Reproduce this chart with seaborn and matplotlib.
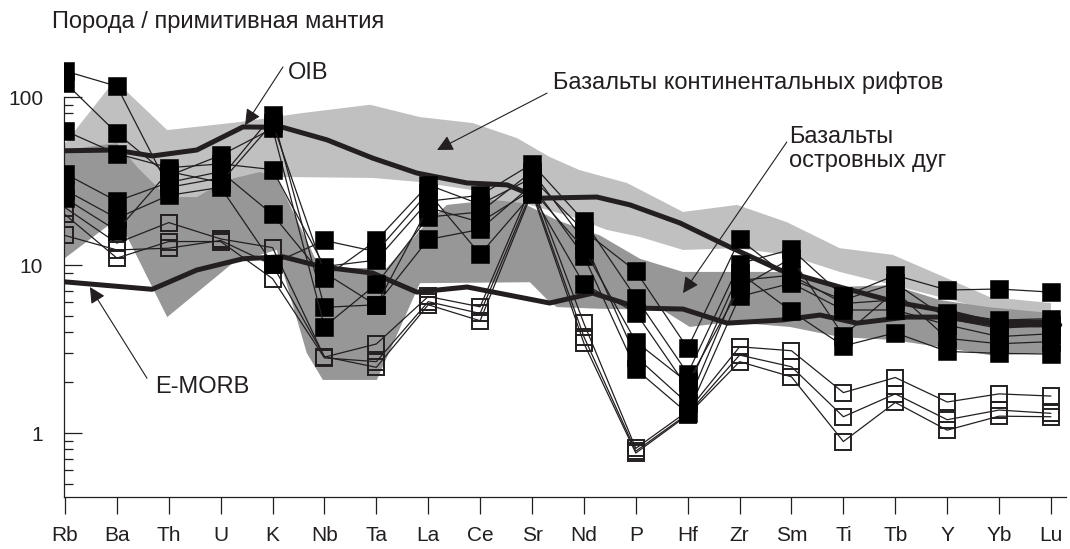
import numpy as np
import pandas as pd
import matplotlib
matplotlib.use('Agg')
import matplotlib.pyplot as plt
import matplotlib.ticker as mticker
import seaborn as sns

# element order (primitive-mantle normalised spider diagram)
elements = ['Rb', 'Ba', 'Th', 'U', 'K', 'Nb', 'Ta', 'La', 'Ce', 'Sr',
            'Nd', 'P', 'Hf', 'Zr', 'Sm', 'Ti', 'Tb', 'Y', 'Yb', 'Lu']

# samples, filled squares
filled_1 = [143, 116, 29, 33, 78, 5.6, 5.8, 14.2, 16.3, 30, 11.3, 2.4, 1.31, 6.5, 7.8, 5.4, 5.4, 4.4, 3.75, 3.9]
filled_2 = [122, 61, 34, 45, 65, 4.3, 7.7, 19.3, 20.7, 36, 14, 2.85, 1.5, 8.1, 8.7, 5.9, 6.2, 5.2, 4.7, 4.8]
filled_3 = [63, 46, 38, 40, 37, 9.8, 10.7, 24, 26, 40, 18.3, 6.4, 2.26, 10.2, 12.4, 6.5, 8.7, 7.1, 7.2, 6.9]
filled_4 = [35, 24, 31, 36, 20, 8.4, 14, 30, 23, 33, 16, 9.2, 3.2, 14.2, 8.2, 6.2, 7.8, 4.8, 4.2, 4.4]
filled_5 = [28, 19, 26, 29, 10.2, 14, 12, 27, 11.6, 26.4, 7.7, 5.2, 1.85, 9.0, 5.3, 3.3, 3.95, 3.06, 2.98, 2.95]
filled_6 = [25, 16, 36, 31, 70, 9.0, 5.75, 22, 18, 28, 12.5, 3.5, 2.0, 7.3, 11, 3.8, 7.0, 3.66, 3.4, 3.5]

# samples, open squares
open_1 = [22, 13.5, 17.9, 14.3, 12.7, 2.83, 3.39, 6.5, 5.64, 30, 4.49, 0.81, 1.35, 3.26, 3.09, 1.74, 2.14, 1.53, 1.71, 1.66]
open_2 = [20, 11, 13.8, 13.8, 8.3, 2.8, 2.66, 6.05, 5.15, 28, 3.74, 0.78, 1.30, 2.91, 2.48, 1.25, 1.71, 1.20, 1.37, 1.31]
open_3 = [15, 12.3, 12.6, 14, 10, 2.85, 2.46, 5.8, 4.66, 27, 3.42, 0.76, 1.28, 2.66, 2.16, 0.89, 1.52, 1.04, 1.26, 1.25]

# reference curves (positions in element units)
oib_pos = [0, 0.96, 1.68, 2.54, 3.43, 4.2, 5.05, 5.93, 6.78, 7.75, 8.52, 9.15, 10.25, 10.89,
           11.85, 12.81, 13.78, 14.93, 16.03, 16.86, 17.82, 18.98]
oib_val = [47.9, 48.4, 44.6, 48.4, 66.4, 66, 55.6, 43.3, 35.3, 30.8, 30.0, 25.0, 25.4, 22.8,
           17.8, 12.8, 9.34, 7.4, 6.0, 5.4, 4.58, 4.58]
emorb_pos = [0, 1.68, 2.54, 3.43, 4.2, 4.97, 5.93, 6.78, 7.75, 9.34, 10.17, 11.08, 11.91,
             12.76, 13.83, 14.55, 15.26, 16.22, 16.99, 18.02, 19.17]
emorb_val = [7.94, 7.17, 9.34, 10.9, 11.2, 9.73, 8.96, 6.9, 7.4, 5.94, 6.8, 5.54, 5.47,
             4.51, 4.71, 5.04, 4.51, 4.9, 4.9, 4.4, 4.4]

# field of continental rift basalts
rift_top_pos = [0, 0.96, 1.97, 3.37, 4.53, 5.88, 6.84, 7.86, 8.71, 9.34, 9.92, 10.83, 11.91,
                12.95, 13.91, 14.93, 15.95, 16.86, 17.82, 19.0]
rift_top_val = [53, 126, 63.6, 71, 80, 90, 76, 70, 57, 44, 36.7, 30.8, 20.7,
                22.8, 18.0, 12.6, 11.5, 8.7, 6.45, 5.94]
rift_bot_pos = [19.0, 17.82, 16.86, 15.95, 14.93, 13.91, 12.95, 11.91, 11.08, 10.44, 9.79,
                8.82, 8.25, 7.86, 6.84, 5.93, 4.34, 3.89, 2.54, 1.97, 1.39, 1.0, 0]
rift_bot_val = [4.84, 5.4, 6.45, 7.6, 9.1, 11.5, 12.6, 12.3, 14.7, 16.2, 19.3,
                23.4, 23.4, 27.9, 31.2, 33.0, 33.4, 33.4, 25.4, 24.4, 38, 50, 48]

# field of island arc basalts
arc_top_pos = [0, 1.0, 1.39, 1.97, 2.54, 3.12, 3.76, 4.08, 4.91, 6.2, 6.97, 7.36, 8.25, 8.82,
               9.48, 10.31, 11.08, 11.91, 13.91, 14.93, 15.95, 16.86, 17.82, 19.0]
arc_top_val = [48.4, 53.2, 38.3, 25.4, 25.4, 32.1, 35.8, 33.4, 9.6, 9.6, 17.8, 22.8, 24.4, 23.4,
               18.5, 15.0, 10.9, 9.1, 9.1, 7.4, 7.6, 6.19, 5.6, 5.18]
arc_bot_pos = [19.0, 17.82, 16.86, 15.95, 14.93, 13.97, 12.81, 12.04, 11.52, 10.25, 9.48, 9.34,
               8.96, 6.84, 6.01, 4.97, 4.66, 4.08, 3.24, 1.97, 1.02, 0]
arc_bot_val = [2.99, 2.91, 3.25, 3.58, 3.73, 4.28, 4.58, 4.28, 5.40, 5.50, 5.62, 6.02,
               7.9, 7.8, 2.07, 2.07, 2.99, 12.3, 10.3, 4.9, 19.0, 11.0]

ink = '#231f20'

sns.set_style('ticks')
plt.rcParams['font.family'] = ['Liberation Sans', 'DejaVu Sans']
plt.rcParams['font.size'] = 15

fig = plt.figure(figsize=(10.7, 5.49), dpi=100)
ax = fig.add_axes([64 / 1070, 52 / 549, 1002 / 1070, 442 / 549])

# fields
ax.fill(rift_top_pos + rift_bot_pos, rift_top_val + rift_bot_val,
        color='#c0c0c0', lw=0, zorder=1)
ax.fill(arc_top_pos + arc_bot_pos, arc_top_val + arc_bot_val,
        color='#979797', lw=0, zorder=1.5)

# OIB and E-MORB
ax.plot(oib_pos, oib_val, color=ink, lw=3.6, solid_joinstyle='round', zorder=2)
ax.plot(emorb_pos, emorb_val, color=ink, lw=3.6, solid_joinstyle='round', zorder=2)


def to_long(samples):
    rows = []
    for name, vals in samples.items():
        for i, v in enumerate(vals):
            rows.append({'sample': name, 'pos': i, 'value': v})
    return pd.DataFrame(rows)


df_open = to_long({'o1': open_1, 'o2': open_2, 'o3': open_3})
df_filled = to_long({'f1': filled_1, 'f2': filled_2, 'f3': filled_3,
                     'f4': filled_4, 'f5': filled_5, 'f6': filled_6})

sns.lineplot(data=df_open, x='pos', y='value', units='sample', estimator=None, sort=False,
             color=ink, lw=0.9, marker='s', markersize=11.6, markerfacecolor='none',
             markeredgecolor=ink, markeredgewidth=1.4, legend=False, ax=ax, zorder=3)
sns.lineplot(data=df_filled, x='pos', y='value', units='sample', estimator=None, sort=False,
             color=ink, lw=0.9, marker='s', markersize=12.6, markerfacecolor='black',
             markeredgecolor='black', markeredgewidth=0.4, legend=False, ax=ax, zorder=4)

# axes
ax.set_yscale('log')
ax.set_ylim(0.416, 178)
ax.set_xlim(-0.019, 19.29)
ax.set_xlabel('')
ax.set_ylabel('')
ax.set_xticks(range(len(elements)))
ax.set_xticklabels(elements)
ax.yaxis.set_major_locator(mticker.FixedLocator([1, 10, 100]))
ax.yaxis.set_major_formatter(mticker.FixedFormatter(['1', '10', '100']))
ax.yaxis.set_minor_locator(mticker.LogLocator(base=10, subs=np.arange(2, 10)))
ax.yaxis.set_minor_formatter(mticker.NullFormatter())
ax.tick_params(axis='x', direction='out', length=12, width=0.9, color=ink,
               labelsize=15, labelcolor=ink, pad=9)
ax.tick_params(axis='y', which='major', direction='in', length=13, width=0.9, color=ink,
               labelsize=15, labelcolor=ink, pad=15)
ax.tick_params(axis='y', which='minor', direction='in', length=6.5, width=0.9, color=ink)
for s in ['top', 'right']:
    ax.spines[s].set_visible(False)
for s in ['left', 'bottom']:
    ax.spines[s].set_color(ink)
    ax.spines[s].set_linewidth(0.9)
ax.spines['left'].set_bounds(0.416, 100)

# annotations
arrow = dict(arrowstyle='-|>', color=ink, lw=0.8, mutation_scale=24, shrinkA=0, shrinkB=0)
ax.annotate('', xy=(3.47, 68), xytext=(4.2, 151), arrowprops=arrow, zorder=5)
ax.text(4.3, 139, 'OIB', ha='left', va='center', fontsize=17, color=ink)

ax.annotate('', xy=(0.48, 7.4), xytext=(1.58, 2.12), arrowprops=arrow, zorder=5)
ax.text(1.73, 1.88, 'E-MORB', ha='left', va='center', fontsize=17, color=ink)

ax.annotate('', xy=(7.17, 48.4), xytext=(9.29, 105.6), arrowprops=arrow, zorder=5)
ax.text(9.4, 121, 'Базальты континентальных рифтов', ha='left', va='center',
        fontsize=17, color=ink)

ax.annotate('', xy=(11.91, 6.81), xytext=(13.91, 54), arrowprops=arrow, zorder=5)
ax.text(13.95, 49, 'Базальты\nостровных дуг', ha='left', va='center',
        fontsize=17, color=ink, linespacing=1.1)

fig.text(52 / 1070, 1 - 22 / 549, 'Порода / примитивная мантия', ha='left', va='center',
         fontsize=17, color=ink)

fig.savefig('out.png', dpi=100)
